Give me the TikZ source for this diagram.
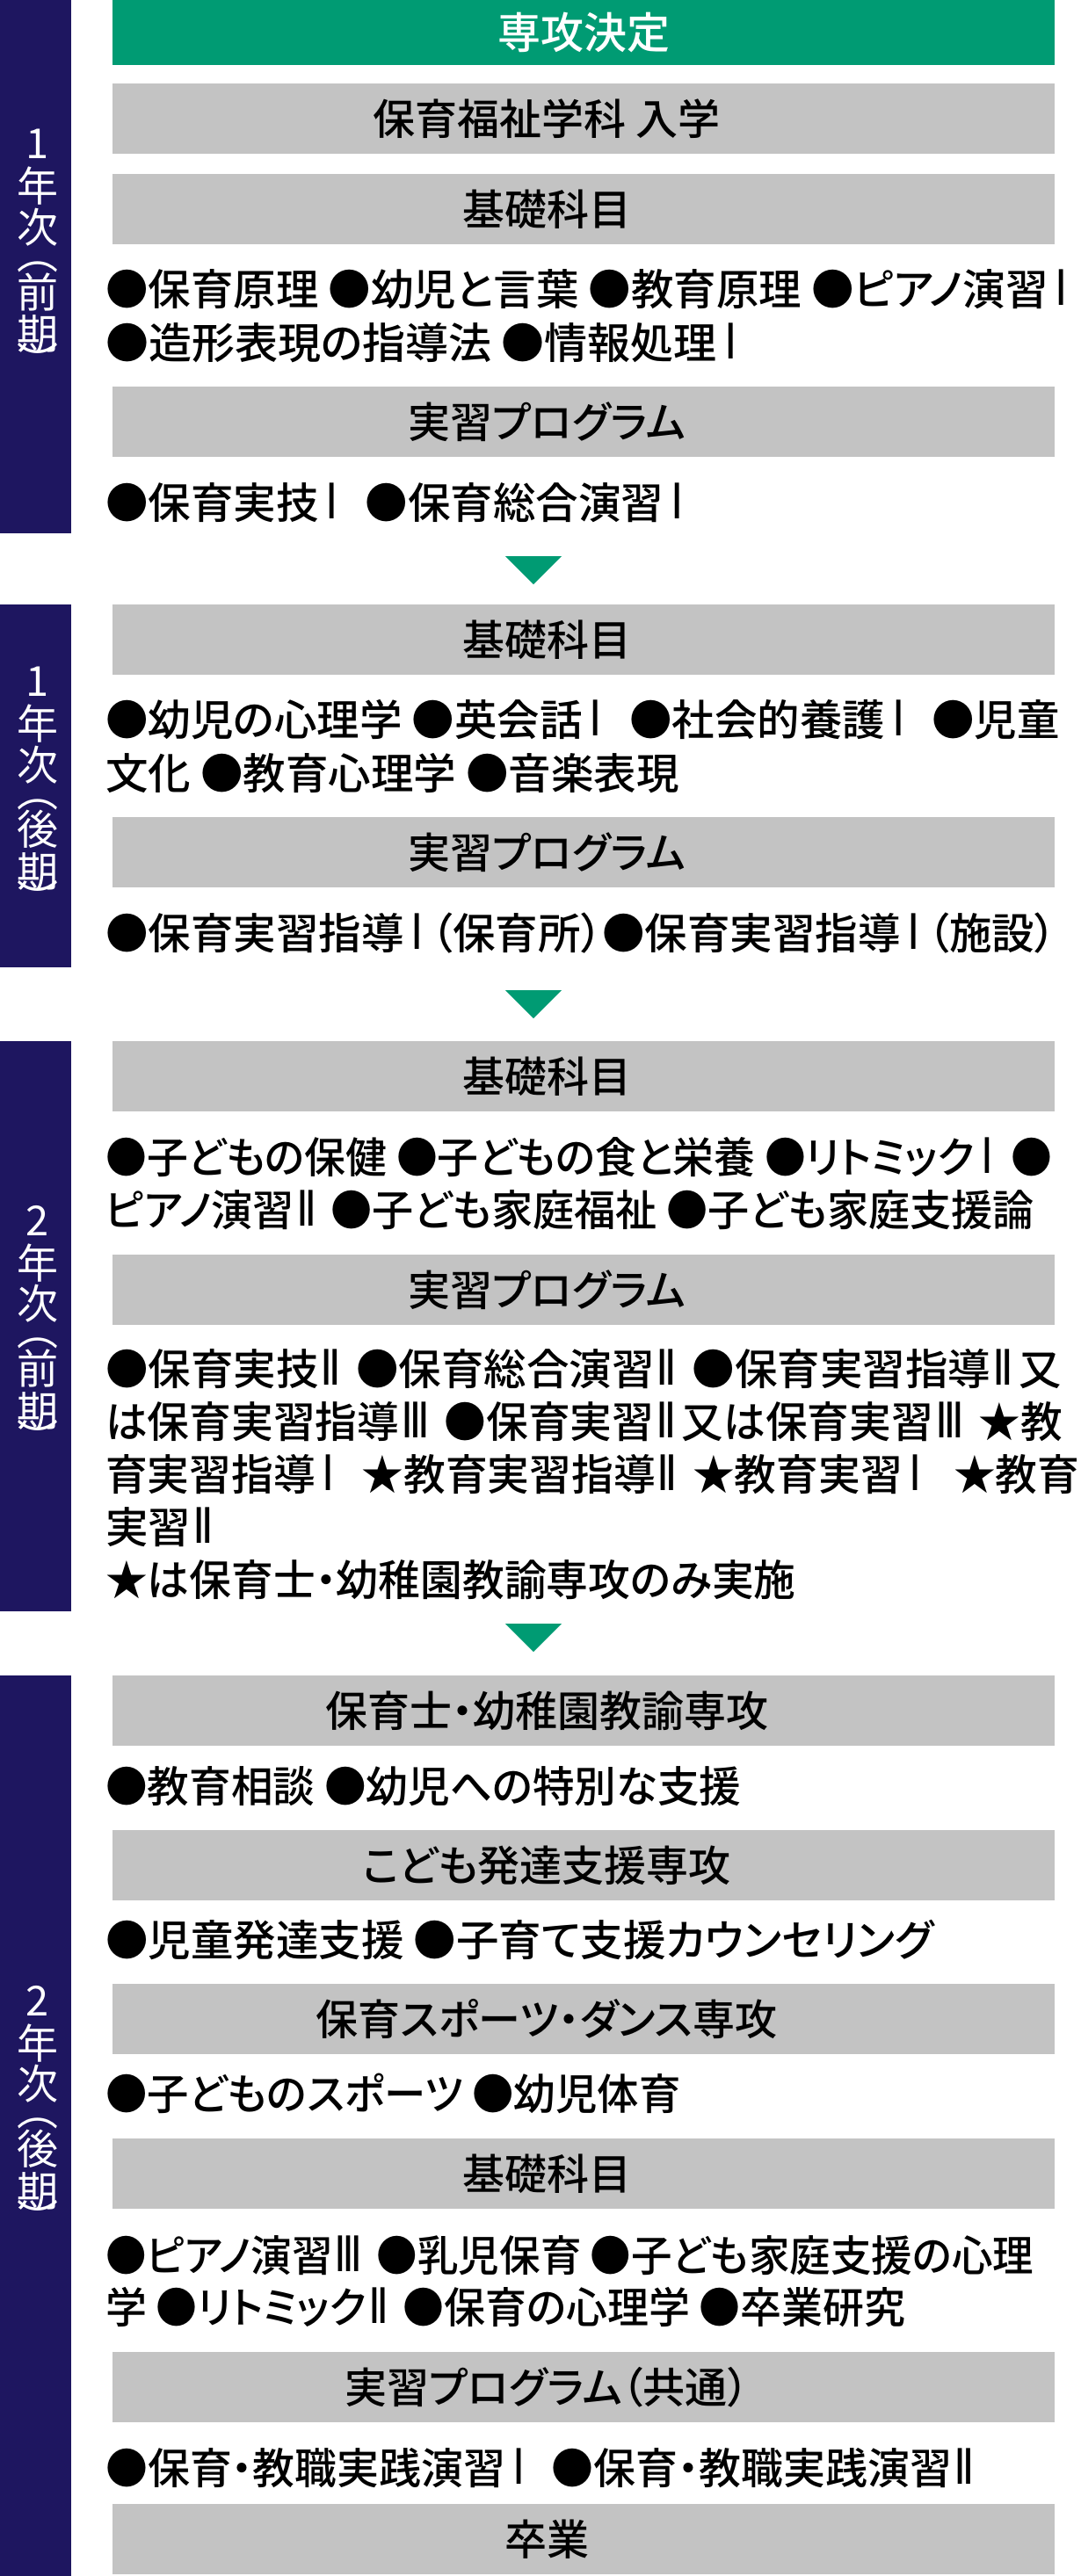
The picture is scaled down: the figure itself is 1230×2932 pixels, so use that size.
\documentclass[tikz,border=0pt]{standalone}
\usepackage{fontspec}
\usepackage{graphicx}
\IfFontExistsTF{Noto Sans CJK JP Medium}
  {\newfontfamily\jp{Noto Sans CJK JP Medium}[RawFeature=+palt]}
  {\newfontfamily\jp{Noto Sans CJK JP}[RawFeature=+palt]}
\newfontfamily\jpv{Noto Sans CJK JP}
\newfontfamily\rnf{DejaVu Sans}
\newcommand\rI[1][20]{\hspace{8pt}\scalebox{1}[1.15]{\rnf Ⅰ}\hspace{#1pt}}
\newcommand\rII[1][6]{\hspace{2pt}\scalebox{1}[1.15]{\rnf Ⅱ}\hspace{#1pt}}
\newcommand\rIII[1][6]{\hspace{2pt}\scalebox{1}[1.15]{\rnf Ⅲ}\hspace{#1pt}}
\newcommand\sx[2]{\scalebox{#1}[1]{#2}}
\definecolor{majorgreen}{RGB}{0,155,115}
\definecolor{navyband}{RGB}{30,22,96}
\definecolor{bargray}{RGB}{195,195,195}
\tikzset{
  graybox/.style={fill=bargray, draw=none, inner sep=0pt, minimum width=1072pt, minimum height=80pt, anchor=north west},
  greenbox/.style={fill=majorgreen, draw=none, inner sep=0pt, minimum width=1072pt, minimum height=74pt, anchor=north west,
     text=white, font=\jp\fontsize{49}{49}\selectfont},
  bartext/.style={inner sep=0pt, font=\jp\fontsize{48}{48}\selectfont, text=black},
  body/.style={inner sep=0pt, anchor=west, font=\jp\fontsize{48.5}{48.5}\selectfont, text=black, text height=40pt, text depth=4pt},
  navybox/.style={fill=navyband, draw=none, inner sep=0pt, minimum width=81pt, anchor=north west},
  vlab/.style={inner sep=0pt, text=white, font=\jpv\fontsize{47}{47}\selectfont},
  arrowtri/.style={fill=majorgreen}
}
\newcommand\graybar[3]{%
  \node[graybox] (#1) at (128,#2) {};
  \node[bartext] (#1t) at ([xshift=-42pt]#1.center) {#3};}
\newcommand\yearlabel[4]{%
  \node[vlab] (#1a) at (43,#2) {#3};
  \node[vlab] (#1b) at (43,#2+48.5) {年};
  \node[vlab] (#1c) at (43,#2+95) {次};
  \node[vlab] (#1d) at (43,#2+140) {︵};
  \node[vlab] (#1e) at (43,#2+168.5) {#4};
  \node[vlab] (#1f) at (43,#2+216.5) {期};
  \node[vlab] (#1g) at (43,#2+246.5) {︶};}
\begin{document}
\begin{tikzpicture}[x=1pt,y=-1pt]
\fill[white] (0,0) rectangle (1230,2932);
\useasboundingbox (0,0) rectangle (1230,2932);

% ---------- 1st year, first term ----------
\node[navybox, minimum height=607pt] (n1) at (0,0) {};
\yearlabel{l1}{163.5}{1}{前}
\node[greenbox] (g0) at (128,0) {専攻決定};
\graybar{s1a}{95}{保育福祉学科 入学}
\graybar{s1b}{198}{基礎科目}
\node[body] (t1a) at (120,329) {●保育原理 ●幼児と言葉 ●教育原理 ●ピアノ演習\rI};
\node[body] (t1b) at (120,390) {\sx{1.011}{●造形表現の指導法 ●情報処理\rI}};
\graybar{s1c}{440}{実習プログラム}
\node[body] (t1c) at (120,572) {●保育実技\rI{} ●保育総合演習\rI};
\fill[arrowtri] (575,633) -- (639,633) -- (607,665) -- cycle;

% ---------- 1st year, second term ----------
\node[navybox, minimum height=413pt] (n2) at (0,688) {};
\yearlabel{l2}{775.5}{1}{後}
\graybar{s2a}{688}{基礎科目}
\node[body] (t2a) at (120,819) {●幼児の心理学 ●英会話\rI{} ●社会的養護\rI{} ●児童};
\node[body] (t2b) at (120,880) {文化 ●教育心理学 ●音楽表現};
\graybar{s2b}{930}{実習プログラム}
\node[body] (t2c) at (120,1062) {●保育実習指導\rI[9]（保育所）●保育実習指導\rI[9]（施設）};
\fill[arrowtri] (575,1127) -- (639,1127) -- (607,1159) -- cycle;

% ---------- 2nd year, first term ----------
\node[navybox, minimum height=649pt] (n3) at (0,1185) {};
\yearlabel{l3}{1389}{2}{前}
\graybar{s3a}{1185}{基礎科目}
\node[body] (t3a) at (120,1317) {\sx{0.966}{●子どもの保健 ●子どもの食と栄養 ●リトミック\rI[10]{} ●}};
\node[body] (t3b) at (120,1377) {\sx{0.972}{ピアノ演習\rII{} ●子ども家庭福祉 ●子ども家庭支援論}};
\graybar{s3b}{1428}{実習プログラム}
\node[body] (t3c) at (120,1558) {●保育実技\rII{} ●保育総合演習\rII{} ●保育実習指導\rII 又};
\node[body] (t3d) at (120,1618) {\sx{0.984}{は保育実習指導\rIII{} ●保育実習\rII 又は保育実習\rIII{} ★教}};
\node[body] (t3e) at (120,1678) {\sx{0.985}{育実習指導\rI{} ★教育実習指導\rII{} ★教育実習\rI[26]{} ★教育}};
\node[body] (t3f) at (120,1738) {実習\rII};
\node[body] (t3g) at (120,1798) {\sx{0.985}{★は保育士・幼稚園教諭専攻のみ実施}};
\fill[arrowtri] (575,1848) -- (639,1848) -- (607,1880) -- cycle;

% ---------- 2nd year, second term ----------
\node[navybox, minimum height=1025pt] (n4) at (0,1907) {};
\yearlabel{l4}{2277}{2}{後}
\graybar{s4a}{1907}{保育士・幼稚園教諭専攻}
\node[body] (t4a) at (120,2033) {\sx{0.982}{●教育相談 ●幼児への特別な支援}};
\graybar{s4b}{2083}{こども発達支援専攻}
\node[body] (t4b) at (120,2208) {●児童発達支援 ●子育て支援カウンセリング};
\graybar{s4c}{2258}{保育スポーツ・ダンス専攻}
\node[body] (t4c) at (120,2383) {\sx{0.977}{●子どものスポーツ ●幼児体育}};
\graybar{s4d}{2434}{基礎科目}
\node[body] (t4d) at (120,2567) {\sx{0.959}{●ピアノ演習\rIII{} ●乳児保育 ●子ども家庭支援の心理}};
\node[body] (t4e) at (120,2626) {\sx{0.968}{学 ●リトミック\rII{} ●保育の心理学 ●卒業研究}};
\graybar{s4e}{2677}{実習プログラム（共通）}
\node[body] (t4f) at (120,2809) {\sx{0.988}{●保育・教職実践演習\rI{} ●保育・教職実践演習\rII}};
\graybar{s4f}{2850}{卒業}
\end{tikzpicture}
\end{document}
